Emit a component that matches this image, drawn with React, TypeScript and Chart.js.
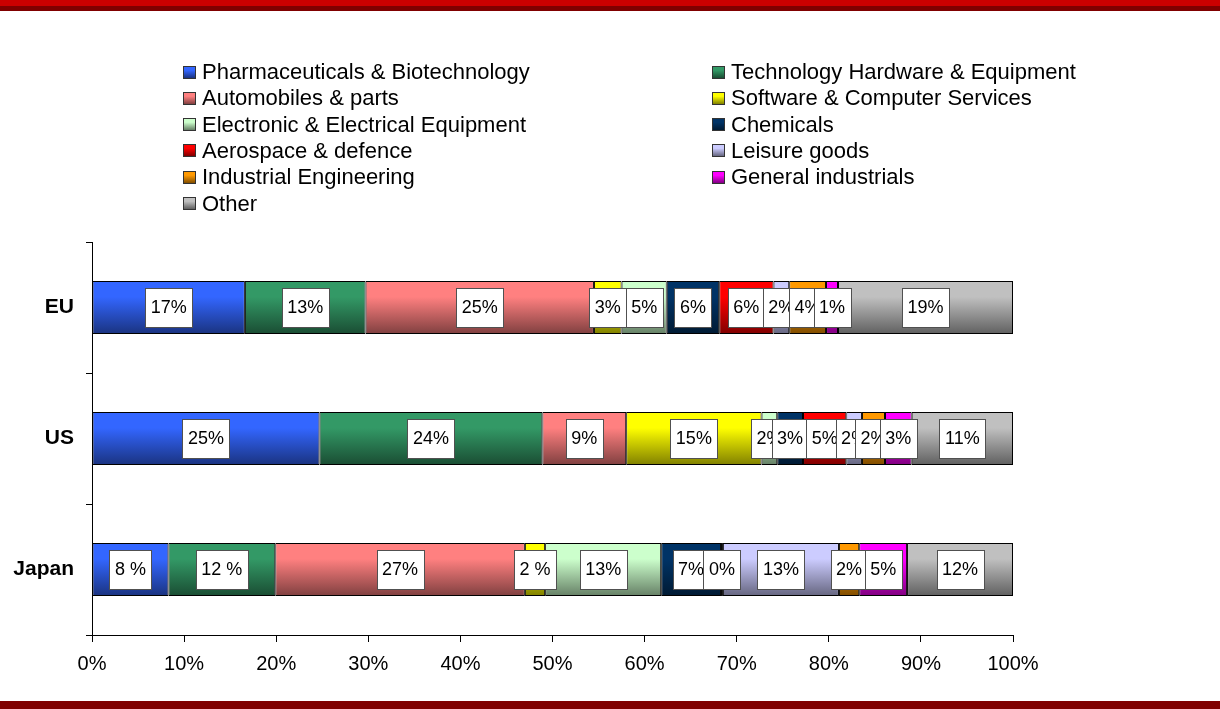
import React, { useEffect, useRef } from 'react';
import { Chart, registerables } from 'chart.js';

Chart.register(...registerables);

const FONT = '"Liberation Sans", Arial, Helvetica, sans-serif';

const regions = ['EU', 'US', 'Japan'];

const sectors = [
  'Pharmaceuticals & Biotechnology',
  'Technology Hardware & Equipment',
  'Automobiles & parts',
  'Software & Computer Services',
  'Electronic & Electrical Equipment',
  'Chemicals',
  'Aerospace & defence',
  'Leisure goods',
  'Industrial Engineering',
  'General industrials',
  'Other',
];

const sectorColors = [
  '#3366FF',
  '#339966',
  '#FF8080',
  '#FFFF00',
  '#CCFFCC',
  '#003366',
  '#FF0000',
  '#CCCCFF',
  '#FF9900',
  '#FF00FF',
  '#C0C0C0',
];

// shares (%) per sector, in the order of `sectors`
const euShares = [16.6, 13.1, 24.8, 3.0, 4.9, 5.7, 5.9, 1.7, 4.0, 1.3, 19.0];
const usShares = [24.7, 24.2, 9.1, 14.7, 1.7, 2.8, 4.7, 1.7, 2.5, 2.9, 11.0];
const japanShares = [8.3, 11.6, 27.1, 2.2, 12.6, 6.5, 0.2, 12.6, 2.2, 5.2, 11.5];

// printed data labels
const euLabels = ['17%', '13%', '25%', '3%', '5%', '6%', '6%', '2%', '4%', '1%', '19%'];
const usLabels = ['25%', '24%', '9%', '15%', '2%', '3%', '5%', '2%', '2%', '3%', '11%'];
const japanLabels = ['8 %', '12 %', '27%', '2 %', '13%', '7%', '0%', '13%', '2%', '5%', '12%'];

const xTickValues = [0, 10, 20, 30, 40, 50, 60, 70, 80, 90, 100];

const shareRows = [euShares, usShares, japanShares];
const labelRows = [euLabels, usLabels, japanLabels];

const CAT_PCT = 0.8;
const BAR_PCT = 0.505;

function shade(hex: string, f: number): string {
  const n = parseInt(hex.slice(1), 16);
  const r = Math.round(((n >> 16) & 255) * f);
  const g = Math.round(((n >> 8) & 255) * f);
  const b = Math.round((n & 255) * f);
  return `rgb(${r},${g},${b})`;
}

const boxLabelPlugin = {
  id: 'boxLabels',
  afterDatasetsDraw(chart: any) {
    const ctx = chart.ctx;
    ctx.save();
    ctx.font = `18px ${FONT}`;
    ctx.textAlign = 'center';
    ctx.textBaseline = 'middle';
    chart.data.datasets.forEach((ds: any, di: number) => {
      const meta = chart.getDatasetMeta(di);
      meta.data.forEach((bar: any, i: number) => {
        const text = labelRows[i][di];
        const p = bar.getProps(['x', 'y', 'base'], true);
        const cx = (p.x + p.base) / 2;
        const cy = p.y;
        const w = Math.round(ctx.measureText(text).width + 11);
        const h = 39;
        const left = Math.round(cx - w / 2) + 0.5;
        const top = Math.round(cy - h / 2) + 0.5;
        ctx.fillStyle = '#FFFFFF';
        ctx.fillRect(left, top, w, h);
        ctx.strokeStyle = '#505050';
        ctx.lineWidth = 1;
        ctx.strokeRect(left, top, w, h);
        ctx.fillStyle = '#000000';
        ctx.fillText(text, cx, cy + 1);
      });
    });
    ctx.restore();
  },
};

function ChartCanvas() {
  const ref = useRef<HTMLCanvasElement | null>(null);

  useEffect(() => {
    if (!ref.current) return;
    const datasets = sectors.map((name, si) => {
      const color = sectorColors[si];
      return {
        label: name,
        data: shareRows.map((row) => row[si]),
        borderColor: '#000000',
        borderWidth: 1,
        borderSkipped: false,
        categoryPercentage: CAT_PCT,
        barPercentage: BAR_PCT,
        backgroundColor: (c: any) => {
          const chart = c.chart;
          const ys = chart.scales && chart.scales.y;
          if (!ys || !chart.chartArea || c.type !== 'data') return color;
          const center = ys.getPixelForValue(c.dataIndex);
          const half = ((ys.height / regions.length) * CAT_PCT * BAR_PCT) / 2;
          const g = chart.ctx.createLinearGradient(0, center - half, 0, center + half);
          g.addColorStop(0, color);
          g.addColorStop(0.3, color);
          g.addColorStop(1, shade(color, 0.5));
          return g;
        },
      };
    });

    const chart = new Chart(ref.current, {
      type: 'bar',
      data: { labels: regions, datasets },
      plugins: [boxLabelPlugin],
      options: {
        indexAxis: 'y',
        responsive: false,
        maintainAspectRatio: false,
        animation: false,
        layout: { padding: { left: 0, top: 242, right: 207, bottom: 34 } },
        plugins: {
          legend: { display: false },
          tooltip: { enabled: false },
        },
        scales: {
          x: {
            type: 'linear',
            stacked: true,
            min: 0,
            max: 100,
            afterBuildTicks: (s: any) => {
              s.ticks = xTickValues.map((v) => ({ value: v }));
            },
            ticks: {
              color: '#000000',
              font: { family: FONT, size: 20 },
              padding: 10,
              maxRotation: 0,
              autoSkip: false,
              callback: (v: any) => `${v}%`,
            },
            grid: {
              drawOnChartArea: false,
              drawTicks: true,
              tickLength: 7,
              color: '#000000',
            },
            border: { display: true, color: '#000000', width: 1 },
            afterFit: (s: any) => {
              s.height = 40;
            },
          },
          y: {
            stacked: true,
            ticks: {
              color: '#000000',
              font: { family: FONT, size: 21, weight: 'bold' },
              padding: 12,
            },
            grid: {
              drawOnChartArea: false,
              drawTicks: true,
              tickLength: 6,
              color: '#000000',
              offset: true,
            },
            border: { display: true, color: '#000000', width: 1 },
            afterFit: (s: any) => {
              s.width = 92;
            },
          },
        },
      } as any,
    });
    return () => chart.destroy();
  }, []);

  return (
    <canvas
      ref={ref}
      width={1220}
      height={709}
      style={{ position: 'absolute', left: 0, top: 0, width: 1220, height: 709 }}
    />
  );
}

function Legend() {
  return (
    <div style={{ position: 'absolute', left: 0, top: 0 }}>
      {sectors.map((name, i) => {
        const col = i % 2;
        const row = Math.floor(i / 2);
        const color = sectorColors[i];
        return (
          <div
            key={name}
            style={{
              position: 'absolute',
              left: col === 0 ? 183 : 712,
              top: 59 + row * 26.3,
              height: 26,
              display: 'flex',
              alignItems: 'center',
              whiteSpace: 'nowrap',
              fontFamily: FONT,
              fontSize: 22,
              color: '#000',
            }}
          >
            <span
              style={{
                display: 'inline-block',
                width: 11,
                height: 11,
                border: '1px solid #333',
                background: `linear-gradient(${color} 0%, ${color} 30%, ${shade(color, 0.5)} 100%)`,
                marginRight: 6,
              }}
            />
            <span>{name}</span>
          </div>
        );
      })}
    </div>
  );
}

export default function App() {
  return (
    <div
      style={{
        position: 'fixed',
        left: 0,
        top: 0,
        width: 1220,
        height: 709,
        background: '#FFFFFF',
        overflow: 'hidden',
      }}
    >
      <div style={{ position: 'absolute', left: 0, top: 0, width: 1220, height: 6, background: '#CC0000' }} />
      <div style={{ position: 'absolute', left: 0, top: 6, width: 1220, height: 5, background: '#800000' }} />
      <ChartCanvas />
      <Legend />
      <div style={{ position: 'absolute', left: 0, top: 701, width: 1220, height: 8, background: '#800000' }} />
    </div>
  );
}
